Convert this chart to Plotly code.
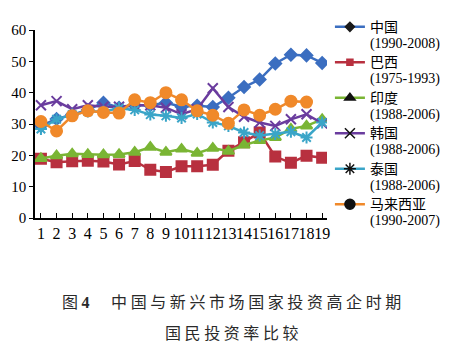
import plotly.graph_objects as go

periods = list(range(1, 20))
china = [29.4, 31.6, 33.0, 34.5, 36.8, 35.2, 36.0, 36.0, 36.8, 35.5, 35.8, 35.4, 38.4, 41.8, 44.2, 49.3, 52.1, 51.9, 49.5]
brazil = [18.9, 17.8, 18.1, 18.3, 18.0, 17.1, 18.2, 15.4, 14.7, 16.5, 16.5, 17.0, 21.5, 24.2, 27.3, 19.6, 17.6, 19.9, 19.2]
india = [19.0, 19.9, 20.5, 20.3, 20.2, 20.3, 21.0, 22.6, 21.0, 22.0, 20.7, 22.3, 21.3, 23.3, 24.7, 25.7, 28.4, 29.4, 31.5]
korea = [36.0, 37.3, 34.7, 36.0, 35.5, 35.5, 36.0, 36.0, 35.2, 33.1, 34.7, 41.4, 35.4, 32.3, 30.5, 29.4, 31.5, 33.1, 30.2]
thailand = [28.4, 31.5, 33.0, 34.0, 34.0, 35.0, 34.5, 33.0, 32.6, 31.9, 33.2, 30.5, 29.4, 27.3, 26.3, 26.8, 27.5, 25.7, 30.5]
malaysia = [30.8, 27.8, 32.6, 34.2, 33.7, 33.5, 37.7, 36.8, 40.0, 37.7, 34.2, 32.8, 30.2, 34.5, 32.8, 34.7, 37.3, 37.0]

names = ["中国", "巴西", "印度", "韩国", "泰国", "马来西亚"]
spans = ["(1990-2008)", "(1975-1993)", "(1988-2006)", "(1988-2006)", "(1988-2006)", "(1990-2007)"]
series = [china, brazil, india, korea, thailand, malaysia]
colors = ["#3B6EC0", "#B8303F", "#7AB534", "#6A3C9E", "#3AA5C8", "#F0892A"]
symbols = ["diamond", "square", "triangle-up", "x-thin-open", "asterisk-open", "circle"]
sizes = [9, 10, 10, 10, 10, 11]
leg_marker_colors = ["#1a1a1a", "#B8303F", "#111111", "#111111", "#111111", "#111111"]
leg_sizes = [7, 6, 9, 10, 10, 10]

fig = go.Figure()
for vals, c, s, sz in zip(series, colors, symbols, sizes):
    fig.add_trace(go.Scatter(
        x=periods[:len(vals)], y=vals, mode="lines+markers",
        line=dict(color=c, width=2.5),
        marker=dict(symbol=s, size=sz, color=c, line=dict(color=c, width=2)),
        showlegend=False, hoverinfo="skip"))

for n, sp, c, s, mc, lsz in zip(names, spans, colors, symbols, leg_marker_colors, leg_sizes):
    fig.add_trace(go.Scatter(
        x=[None], y=[None], mode="lines+markers",
        name=(f"<span style='font-size:14px'>{n}</span><br>"
              f"<span style='font-family:Liberation Serif;font-size:14px'>{sp}</span>"),
        line=dict(color=c, width=2.5),
        marker=dict(symbol=s, size=lsz, color=mc, line=dict(color=mc, width=1.5)),
        showlegend=True))

fig.update_layout(
    width=469, height=345,
    margin=dict(l=35, r=142, t=28, b=127),
    paper_bgcolor="white", plot_bgcolor="white",
    font=dict(family="Liberation Serif", color="black", size=13),
    xaxis=dict(range=[0.62, 19.31], tickmode="array", tickvals=periods,
               ticktext=[str(p) for p in periods], tickangle=0,
               showline=True, linecolor="black", linewidth=1.5,
               ticks="inside", ticklen=5, tickcolor="black",
               showgrid=False, zeroline=False,
               tickfont=dict(family="Liberation Serif", size=16, color="black")),
    yaxis=dict(range=[0, 60], tickvals=[0, 10, 20, 30, 40, 50, 60],
               showline=True, linecolor="black", linewidth=1.5,
               ticks="outside", ticklen=4, tickcolor="black",
               showgrid=False, zeroline=False,
               tickfont=dict(family="Liberation Serif", size=15, color="black")),
    legend=dict(x=1.01, y=1.095, xanchor="left", yanchor="top",
                font=dict(family="Noto Sans CJK SC", size=12.5, color="black"),
                valign="top", tracegroupgap=0, itemwidth=30,
                maxheight=345,
                bgcolor="rgba(0,0,0,0)"),
)

cap1 = "图 <span style='font-family:Liberation Serif'><b>4</b></span>      " + " ".join("中国与新兴市场国家投资高企时期")
cap2 = " ".join("国民投资率比较")
cx = (231.5 - 35) / 292
fig.add_annotation(text=cap1, xref="paper", yref="paper", x=cx, y=(218 - 301.7) / 190,
                   xanchor="center", yanchor="middle", showarrow=False,
                   font=dict(family="Noto Sans CJK SC", size=16, color="#2a2a2a"))
fig.add_annotation(text=cap2, xref="paper", yref="paper", x=cx, y=(218 - 333) / 190,
                   xanchor="center", yanchor="middle", showarrow=False,
                   font=dict(family="Noto Sans CJK SC", size=16, color="#2a2a2a"))

fig.write_html("out.html")
